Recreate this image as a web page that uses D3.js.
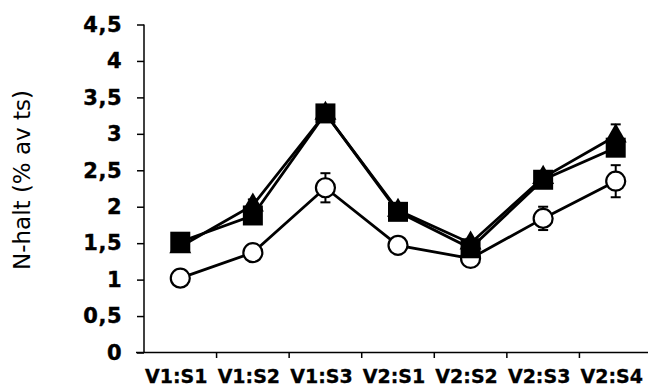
<!DOCTYPE html>
<html><head><meta charset="utf-8">
<script src="https://cdn.jsdelivr.net/npm/d3@7/dist/d3.min.js"></script>
<style>body{margin:0;background:#fff}svg{display:block}</style>
</head><body>
<svg id="c" width="648" height="388"></svg>
<script>
const categories = ["V1:S1","V1:S2","V1:S3","V2:S1","V2:S2","V2:S3","V2:S4"];
const yTicks = [0,0.5,1,1.5,2,2.5,3,3.5,4,4.5];
const circleVals = [1.02,1.37,2.26,1.47,1.29,1.84,2.35];
const circleErr  = [0.04,0.05,0.20,0.07,0.05,0.16,0.22];
const triVals    = [1.45,2.02,3.28,1.95,1.50,2.40,2.97];
const triErr     = [0.05,0.08,0.08,0.06,0.06,0.06,0.16];
const squareVals = [1.52,1.88,3.28,1.93,1.43,2.37,2.81];
const squareErr  = [0.06,0.07,0.08,0.06,0.06,0.06,0.08];

const svg = d3.select("#c");
const x = d3.scaleBand().domain(categories).range([144, 652]);
const y = d3.scaleLinear().domain([0, 4.5]).range([352.5, 24.5]);
const cx = c => x(c) + x.bandwidth()/2;

// y axis
const ya = svg.append("g").attr("transform","translate(144,0)")
  .call(d3.axisLeft(y).tickValues(yTicks).tickSize(7).tickPadding(15)
    .tickFormat(d => String(d).replace(".", ",")));
ya.select(".domain").attr("stroke","#000").attr("stroke-width",1.5).attr("d","M0,24.5V352.5");
ya.selectAll(".tick line").attr("stroke","#000").attr("stroke-width",1.5);
ya.selectAll(".tick text").attr("font-family","DejaVu Sans").attr("font-weight","bold")
  .attr("font-size",21).attr("fill","#000").attr("stroke","#000").attr("stroke-width",0.4)
  .attr("letter-spacing",0.5);

// x axis
const xa = svg.append("g").attr("transform","translate(0,352.5)")
  .call(d3.axisBottom(x).tickSize(0).tickPadding(17));
xa.select(".domain").attr("stroke","#000").attr("stroke-width",1.5).attr("d","M136,0H648");
xa.selectAll(".tick text").attr("font-family","DejaVu Sans").attr("font-weight","bold")
  .attr("font-size",19).attr("fill","#000").attr("stroke","#000").attr("stroke-width",0.3)
  .attr("dx",-4);
// category boundary ticks
svg.append("g").selectAll("line").data(categories.slice(1)).join("line")
  .attr("x1", d => x(d)).attr("x2", d => x(d))
  .attr("y1", 352.5).attr("y2", 358).attr("stroke","#000").attr("stroke-width",1.5);

// y label
svg.append("text").attr("transform","translate(30,180) rotate(-90)")
  .attr("text-anchor","middle").attr("font-family","DejaVu Sans")
  .attr("font-size",23).attr("fill","#000").text("N-halt (% av ts)");

const series = [
  {vals: circleVals, err: circleErr, type: "circle"},
  {vals: triVals, err: triErr, type: "triangle"},
  {vals: squareVals, err: squareErr, type: "square"}
];

const line = d3.line().x((d,i) => cx(categories[i])).y(d => y(d));
series.forEach(s => {
  svg.append("path").datum(s.vals).attr("d", line)
    .attr("fill","none").attr("stroke","#000").attr("stroke-width",2.8);
});

// error bars
series.forEach(s => {
  const g = svg.append("g").attr("stroke","#000").attr("stroke-width",2);
  s.vals.forEach((v,i) => {
    const px = cx(categories[i]);
    const t = y(v + s.err[i]), b = y(v - s.err[i]);
    g.append("line").attr("x1",px).attr("x2",px).attr("y1",t).attr("y2",b);
    g.append("line").attr("x1",px-5).attr("x2",px+5).attr("y1",t).attr("y2",t);
    g.append("line").attr("x1",px-5).attr("x2",px+5).attr("y1",b).attr("y2",b);
  });
});

// markers
series.forEach(s => {
  const g = svg.append("g");
  s.vals.forEach((v,i) => {
    const px = cx(categories[i]), py = y(v);
    if (s.type === "circle") {
      g.append("circle").attr("cx",px).attr("cy",py).attr("r",9.5)
        .attr("fill","#fff").attr("stroke","#000").attr("stroke-width",2.2);
    } else if (s.type === "triangle") {
      g.append("path").attr("d", d3.symbol().type(d3.symbolTriangle).size(210)())
        .attr("transform",`translate(${px},${py})`).attr("fill","#000");
    } else {
      g.append("rect").attr("x",px-10).attr("y",py-10).attr("width",20).attr("height",20)
        .attr("fill","#000");
    }
  });
});
</script>
</body></html>
